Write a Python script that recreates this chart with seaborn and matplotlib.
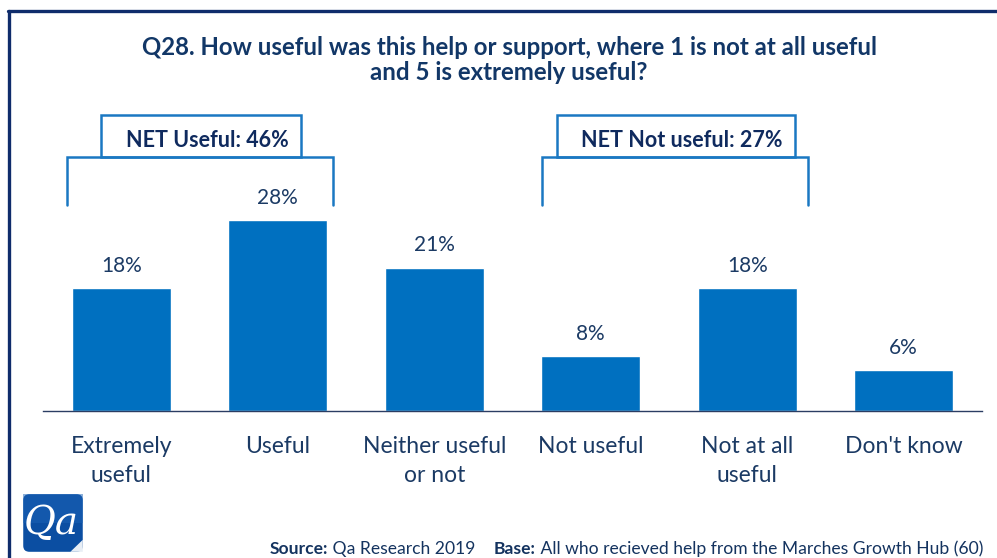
import matplotlib
matplotlib.use("Agg")
import matplotlib.pyplot as plt
import seaborn as sns
import pandas as pd
from matplotlib.patches import Rectangle, FancyBboxPatch
from matplotlib.offsetbox import TextArea, HPacker, AnnotationBbox

# Survey responses (% of respondents)
categories = ["Extremely\nuseful", "Useful", "Neither useful\nor not", "Not useful",
              "Not at all\nuseful", "Don't know"]
values = [18, 28, 21, 8, 18, 6]
net_labels = ["NET Useful: 46%", "NET Not useful: 27%"]

sns.set_theme(style="white")
plt.rcParams["font.family"] = ["Lato", "DejaVu Sans"]

BAR = "#0070C0"
NAVY = "#123767"
TEXT = "#1B3A64"
FRAME = "#0F2C6B"

W, H = 997, 558
fig = plt.figure(figsize=(W / 100, H / 100), dpi=100)
fig.patch.set_facecolor("white")

def px(x0, y0, x1, y1):
    return [x0 / W, 1 - y1 / H, (x1 - x0) / W, (y1 - y0) / H]

# slide frame
fig.add_artist(plt.Line2D([8 / W, 1.0], [1 - 10.5 / H, 1 - 10.5 / H], color=FRAME, lw=2.4,
                          transform=fig.transFigure))
fig.add_artist(plt.Line2D([8.5 / W, 8.5 / W], [0, 1 - 10.5 / H], color=FRAME, lw=2.4,
                          transform=fig.transFigure))

ax = fig.add_axes(px(43, 100, 982, 411))
df = pd.DataFrame({"cat": categories, "val": values})
sns.barplot(data=df, x="cat", y="val", color=BAR, saturation=1, width=0.63, ax=ax)
ax.set_ylim(0, 311 / 6.82)
ax.set_xlim(-0.5, len(categories) - 0.5)
ax.set_xlabel("")
ax.set_ylabel("")
ax.set_yticks([])
for s in ["top", "right", "left"]:
    ax.spines[s].set_visible(False)
ax.spines["bottom"].set_color("#2B3D63")
ax.spines["bottom"].set_linewidth(1.0)
ax.set_xticks(range(len(categories)))
ax.set_xticklabels(categories, fontsize=16.5, color=TEXT, linespacing=1.45)
ax.tick_params(axis="x", which="major", length=0, pad=18)
ax.set_xticks([i - 0.5 for i in range(len(categories) + 1)], minor=True)
ax.tick_params(axis="x", which="minor", length=5, width=1.0, color="#2B3D63", direction="out")

for c in ax.containers:
    ax.bar_label(c, labels=[f"{v}%" for v in values], padding=9, fontsize=15, color=TEXT)

# NET brackets with label boxes
def bracket(x0, x1, bx0, bx1, label):
    kw = dict(color="#1A78C2", lw=1.8, clip_on=False, solid_joinstyle="miter")
    ax.plot([x0, x0, x1, x1], [30.2, 37.2, 37.2, 30.2], **kw)
    ax.add_patch(Rectangle((bx0, 37.2), bx1 - bx0, 6.2, fill=False, edgecolor="#1A78C2",
                           lw=1.8, clip_on=False))
    ax.text((bx0 + bx1) / 2 + 0.04, 39.6, label, ha="center", va="center", fontsize=15.5,
            fontweight="bold", color="#0F2A5E", clip_on=False)

bracket(-0.347, 1.353, -0.129, 1.149, net_labels[0])
bracket(2.688, 4.388, 2.784, 4.305, net_labels[1])

fig.text(509 / W, 1 - 60 / H,
         "Q28. How useful was this help or support, where 1 is not at all useful\nand 5 is extremely useful?",
         ha="center", va="center", fontsize=17.3, fontweight="bold", color=NAVY, linespacing=1.15)

# footer with mixed bold/regular runs
parts = [("Source:", "bold"), (" Qa Research 2019    ", "normal"), ("Base:", "bold"),
         (" All who recieved help from the Marches Growth Hub (60)", "normal")]
areas = [TextArea(t, textprops=dict(fontsize=12.6, fontweight=w, color="#14335F")) for t, w in parts]
pack = HPacker(children=areas, pad=0, sep=0, align="baseline")
ab = AnnotationBbox(pack, (983 / W, 1 - 549 / H), xycoords="figure fraction",
                    box_alignment=(1, 0.5), frameon=False, pad=0)
fig.add_artist(ab)

# logo
lax = fig.add_axes(px(22, 493, 84, 553))
lax.set_xlim(0, 1)
lax.set_ylim(0, 1)
lax.axis("off")
lax.add_patch(FancyBboxPatch((0.02, 0.02), 0.96, 0.96, boxstyle="round,pad=0,rounding_size=0.1",
                             facecolor="#0B4EA2", edgecolor="none"))
lax.add_patch(Rectangle((0.02, 0.5), 0.96, 0.48, facecolor="#1B63B6", edgecolor="none", alpha=0.5))
lax.text(0.47, 0.5, "Qa", ha="center", va="center", fontsize=28, fontstyle="italic",
         family="DejaVu Serif", color="white")
lax.add_patch(plt.Polygon([[0.98, 0.02], [0.98, 0.22], [0.78, 0.02]], facecolor="#E8EEF5",
                          edgecolor="none"))

fig.savefig("out.png", dpi=100, facecolor="white")
